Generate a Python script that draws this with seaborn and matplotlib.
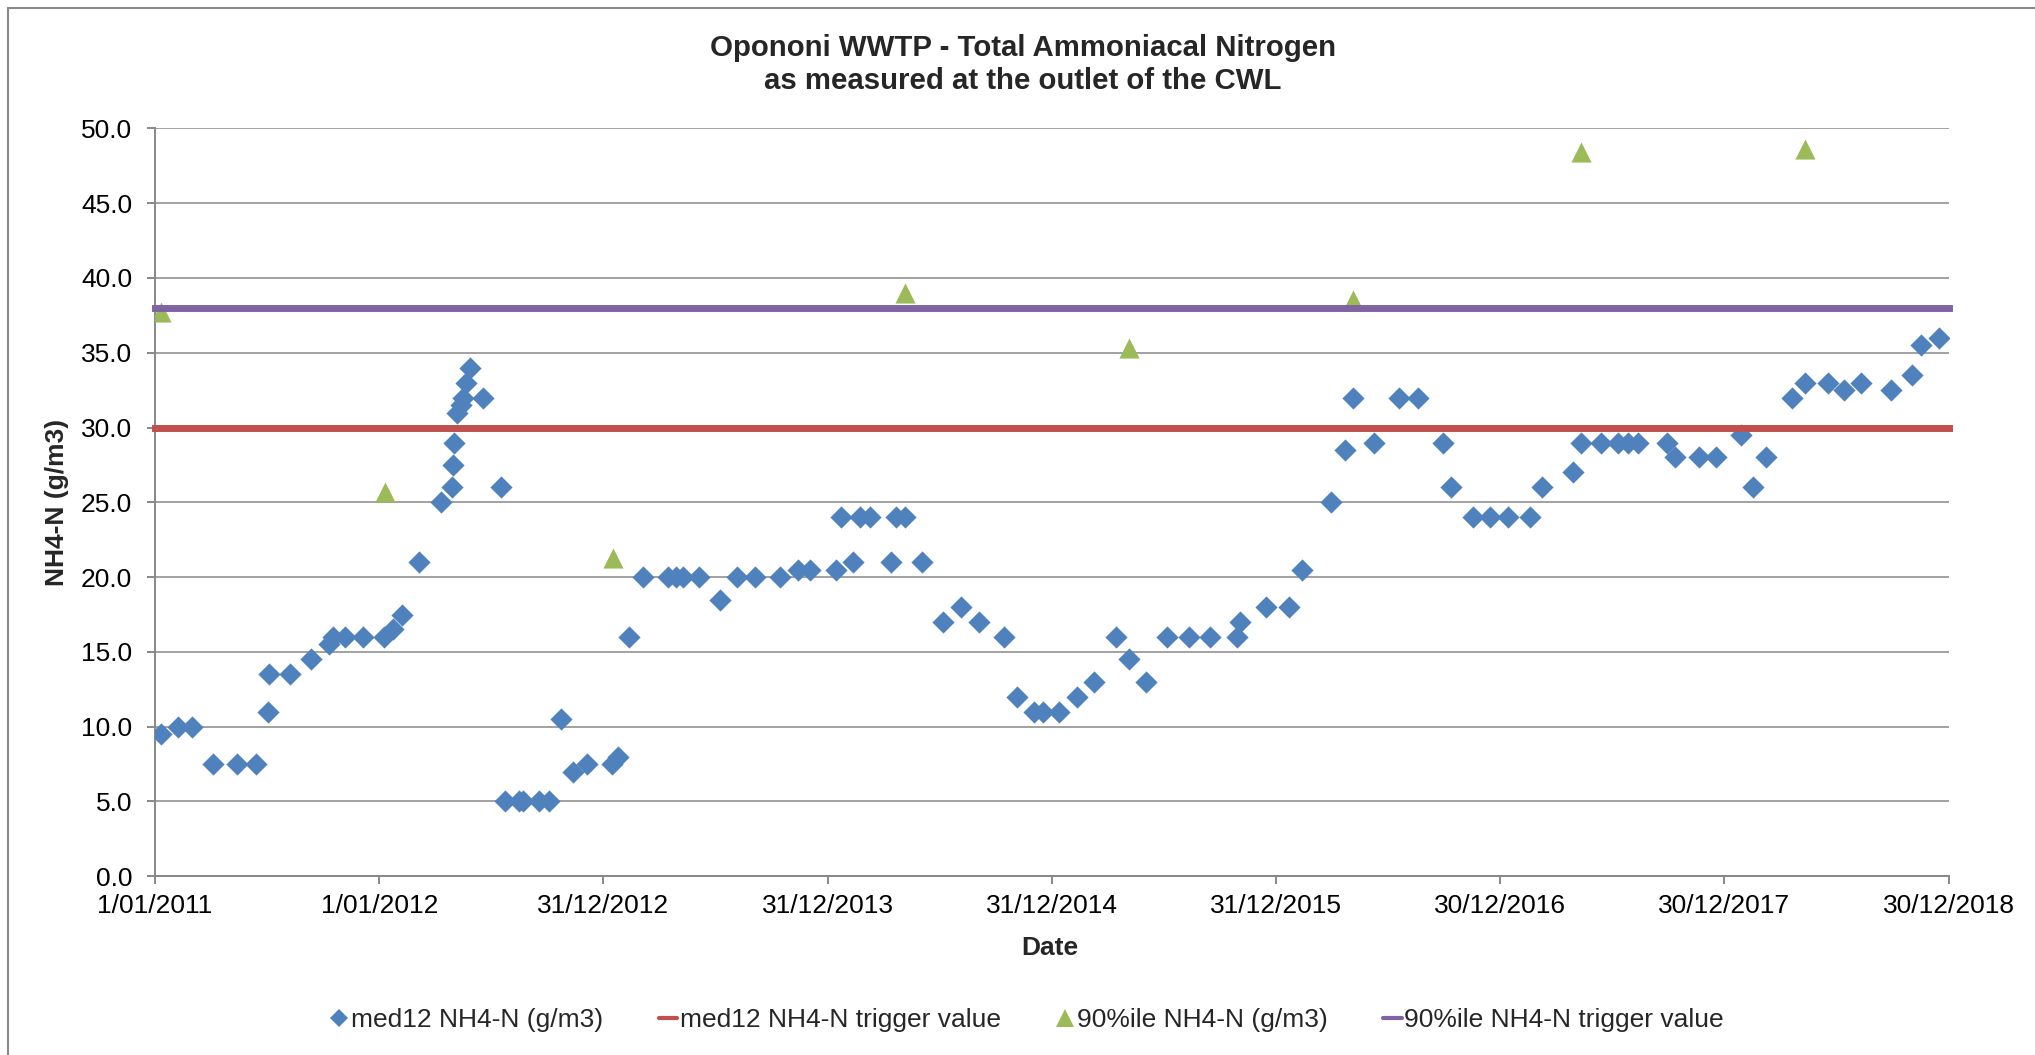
import pandas as pd
import matplotlib.pyplot as plt
import seaborn as sns
from matplotlib.lines import Line2D
from matplotlib.patches import Rectangle

# med12 NH4-N (g/m3)
med12_dates = [
    '2011-01-10', '2011-02-07', '2011-03-02', '2011-04-05', '2011-05-15', '2011-06-15',
    '2011-07-04', '2011-07-06', '2011-08-08', '2011-09-12', '2011-10-11', '2011-10-17',
    '2011-11-06', '2011-12-05', '2012-01-09', '2012-01-24', '2012-02-07', '2012-03-05',
    '2012-04-10', '2012-04-29', '2012-04-30', '2012-05-01', '2012-05-06', '2012-05-13',
    '2012-05-17', '2012-05-21', '2012-05-28', '2012-06-18', '2012-07-18', '2012-07-23',
    '2012-08-15', '2012-08-22', '2012-09-17', '2012-10-03', '2012-10-23', '2012-11-12',
    '2012-12-04', '2013-01-14', '2013-01-23', '2013-02-11', '2013-03-06', '2013-04-15',
    '2013-04-28', '2013-05-09', '2013-06-05', '2013-07-08', '2013-08-06', '2013-09-04',
    '2013-10-15', '2013-11-13', '2013-12-03', '2014-01-13', '2014-01-22', '2014-02-11',
    '2014-02-21', '2014-03-10', '2014-04-14', '2014-04-22', '2014-05-06', '2014-06-03',
    '2014-07-07', '2014-08-05', '2014-09-03', '2014-10-14', '2014-11-04', '2014-12-02',
    '2014-12-16', '2015-01-12', '2015-02-10', '2015-03-10', '2015-04-14', '2015-05-05',
    '2015-06-03', '2015-07-06', '2015-08-12', '2015-09-15', '2015-10-28', '2015-11-03',
    '2015-12-15', '2016-01-22', '2016-02-11', '2016-03-30', '2016-04-22', '2016-05-04',
    '2016-06-08', '2016-07-19', '2016-08-18', '2016-09-28', '2016-10-11', '2016-11-16',
    '2016-12-14', '2017-01-12', '2017-02-16', '2017-03-08', '2017-04-28', '2017-05-10',
    '2017-06-13', '2017-07-10', '2017-07-26', '2017-08-11', '2017-09-27', '2017-10-11',
    '2017-11-18', '2017-12-16', '2018-01-26', '2018-02-14', '2018-03-08', '2018-04-19',
    '2018-05-10', '2018-06-16', '2018-07-13', '2018-08-10', '2018-09-27', '2018-10-31',
    '2018-11-16', '2018-12-14',
]
med12_values = [
    9.5, 10, 10, 7.5, 7.5, 7.5,
    11, 13.5, 13.5, 14.5, 15.5, 16,
    16, 16, 16, 16.5, 17.5, 21,
    25, 26, 27.5, 29, 31, 31.5,
    32, 33, 34, 32, 26, 5,
    5, 5, 5, 5, 10.5, 7,
    7.5, 7.5, 8, 16, 20, 20,
    20, 20, 20, 18.5, 20, 20,
    20, 20.5, 20.5, 20.5, 24, 21,
    24, 24, 21, 24, 24, 21,
    17, 18, 17, 16, 12, 11,
    11, 11, 12, 13, 16, 14.5,
    13, 16, 16, 16, 16, 17,
    18, 18, 20.5, 25, 28.5, 32,
    29, 32, 32, 29, 26, 24,
    24, 24, 24, 26, 27, 29,
    29, 29, 29, 29, 29, 28,
    28, 28, 29.5, 26, 28, 32,
    33, 33, 32.5, 33, 32.5, 33.5,
    35.5, 36,
]

# 90%ile NH4-N (g/m3)
p90_dates = ['2011-01-10', '2012-01-10', '2013-01-15', '2014-05-06',
             '2015-05-05', '2016-05-04', '2017-05-10', '2018-05-10']
p90_values = [37.7, 25.7, 21.3, 39.0, 35.3, 38.5, 48.4, 48.6]

# trigger values
trigger_dates = ['2011-01-01', '2018-12-30']
med12_trigger = [30, 30]
p90_trigger = [38, 38]

tick_dates = ['2011-01-01', '2012-01-01', '2012-12-31', '2013-12-31', '2014-12-31',
              '2015-12-31', '2016-12-30', '2017-12-30', '2018-12-30']

blue = '#4F81BD'
red = '#C0504D'
green = '#9BBB59'
purple = '#8064A2'
grey = '#888888'

sns.set_theme(style='white')
plt.rcParams['font.family'] = ['Liberation Sans', 'DejaVu Sans']

fig = plt.figure(figsize=(20.35, 10.55), dpi=100)
ax = fig.add_axes([0.0762, 0.1694, 0.8813, 0.7089])

med = pd.DataFrame({'date': pd.to_datetime(med12_dates), 'value': med12_values})
p90 = pd.DataFrame({'date': pd.to_datetime(p90_dates), 'value': p90_values})
trig = pd.DataFrame({'date': pd.to_datetime(trigger_dates),
                     'med12': med12_trigger, 'p90': p90_trigger})

sns.scatterplot(data=med, x='date', y='value', marker='D', s=128, color=blue,
                linewidth=0, ax=ax, zorder=3)
sns.lineplot(data=trig, x='date', y='med12', color=red, lw=5, ax=ax, zorder=4,
             solid_capstyle='projecting', clip_on=False)
sns.scatterplot(data=p90, x='date', y='value', marker='^', s=210, color=green,
                linewidth=0, ax=ax, zorder=5)
sns.lineplot(data=trig, x='date', y='p90', color=purple, lw=5, ax=ax, zorder=6,
             solid_capstyle='projecting', clip_on=False)

ax.set_xlim(pd.Timestamp(trigger_dates[0]), pd.Timestamp(trigger_dates[1]))
ax.set_ylim(0, 50)
ticks = pd.to_datetime(tick_dates)
ax.set_xticks(ticks)
ax.set_xticklabels([f'{d.day}/{d.month:02d}/{d.year}' for d in ticks])
ax.set_yticks(range(0, 51, 5))
ax.set_yticklabels([f'{v:.1f}' for v in range(0, 51, 5)])

ax.yaxis.grid(True, color=grey, lw=1.1, zorder=0)
ax.set_axisbelow(True)
for side in ['top', 'right']:
    ax.spines[side].set_visible(False)
for side in ['left', 'bottom']:
    ax.spines[side].set_color(grey)
    ax.spines[side].set_linewidth(1.4)
ax.tick_params(axis='both', which='major', length=5.5, width=1.4, color=grey,
               labelsize=19, labelcolor='black', direction='out')
ax.tick_params(axis='y', pad=11)
ax.tick_params(axis='x', pad=7)
ax.tick_params(left=True, bottom=True)

ax.set_xlabel('Date', fontsize=19, fontweight='bold', va='center')
ax.set_ylabel('NH4-N (g/m3)', fontsize=19, fontweight='bold', va='center')
ax.xaxis.set_label_coords(0.4989, -0.0965)
ax.yaxis.set_label_coords(-0.0546, 0.5)

fig.text(1023 / 2035, 1 - 64.5 / 1055,
         'Opononi WWTP - Total Ammoniacal Nitrogen\nas measured at the outlet of the CWL',
         ha='center', va='center', fontsize=21.2, fontweight='bold', linespacing=1.2)

handles = [
    Line2D([], [], marker='D', color=blue, ls='none', markersize=9, markeredgewidth=0),
    Line2D([], [], color=red, lw=3),
    Line2D([], [], marker='^', color=green, ls='none', markersize=12.5, markeredgewidth=0),
    Line2D([], [], color=purple, lw=3),
]
labels = ['med12 NH4-N (g/m3)', 'med12 NH4-N trigger value',
          '90%ile NH4-N (g/m3)', '90%ile NH4-N trigger value']
fig.legend(handles, labels, loc='center', bbox_to_anchor=(1027 / 2035, 1 - 1020 / 1055),
           ncol=4, frameon=False, fontsize=19, handlelength=0.7, handletextpad=0.1,
           columnspacing=2.1)

fig.patches.append(Rectangle((8 / 2035, -0.1), 1.2, 1.1 - 8 / 1055, transform=fig.transFigure,
                             fill=False, edgecolor=grey, lw=1.5))

fig.savefig('out.png', dpi=100, facecolor='white')
